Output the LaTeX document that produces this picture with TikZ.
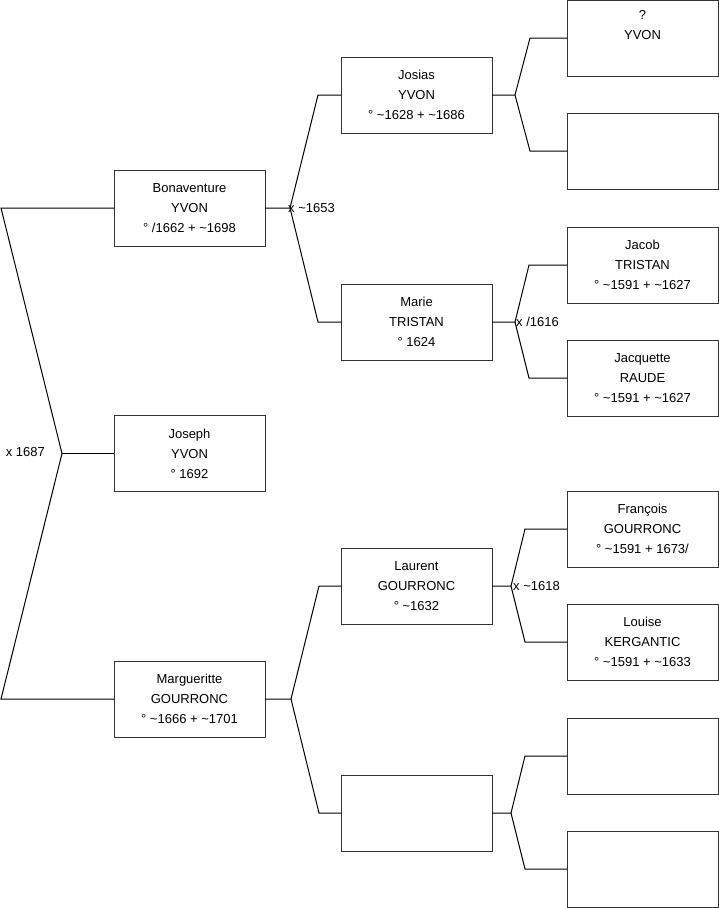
\documentclass[tikz,border=0pt]{standalone}
\usepackage{fontspec}
\setmainfont{Liberation Sans}
\newcommand{\ca}{\textasciitilde}
\begin{document}
\begin{tikzpicture}[x=1pt, y=-1pt, font=\fontsize{13}{20}\selectfont,
  person/.style={draw=black!80, line width=0.9pt, minimum width=151pt, minimum height=76pt,
    inner sep=0pt, outer sep=0pt, align=center},
  link/.style={black, line width=1pt},
  wed/.style={inner sep=0pt}]
  \useasboundingbox (0,0) rectangle (719,908);
  % generation 1
  \node[person] (joseph) at (189.5,453.5) {Joseph\\YVON\\° 1692};
  % generation 2
  \node[person] (bonaventure) at (189.5,208) {Bonaventure\\YVON\\° /1662 + \ca1698};
  \node[person] (margueritte) at (189.5,699) {Margueritte\\GOURRONC\\° \ca1666 + \ca1701};
  % generation 3
  \node[person] (josias) at (416.5,95) {Josias\\YVON\\° \ca1628 + \ca1686};
  \node[person] (marie) at (416.5,322) {Marie\\TRISTAN\\° 1624};
  \node[person] (laurent) at (416.5,586) {Laurent\\GOURRONC\\° \ca1632};
  \node[person] (unknownA) at (416.5,813) {};
  % generation 4
  \node[person] (yvon) at (642.5,38) {?\\YVON\\\strut};
  \node[person] (unknownB) at (642.5,151) {};
  \node[person] (jacob) at (642.5,265) {Jacob\\TRISTAN\\° \ca1591 + \ca1627};
  \node[person] (jacquette) at (642.5,378) {Jacquette\\RAUDE\\° \ca1591 + \ca1627};
  \node[person] (francois) at (642.5,529) {François\\GOURRONC\\° \ca1591 + 1673/};
  \node[person] (louise) at (642.5,642) {Louise\\KERGANTIC\\° \ca1591 + \ca1633};
  \node[person] (unknownC) at (642.5,756) {};
  \node[person] (unknownD) at (642.5,869) {};
  % parents of Joseph
  \coordinate (f1) at (62,453.5);
  \coordinate (b1) at ([xshift=-113pt]bonaventure.west);
  \coordinate (m1) at ([xshift=-113pt]margueritte.west);
  \draw[link] (bonaventure.west) -- (b1) -- (f1) -- (m1) -- (margueritte.west);
  \draw[link] (f1) -- (joseph.west);
  \node[wed, anchor=east] (w1) at (45,452) {x 1687};
  % parents of Bonaventure
  \draw[link] (bonaventure.east) -- ++(25,0) coordinate (f2) -- ([xshift=-23pt]josias.west) -- (josias.west);
  \draw[link] (f2) -- ([xshift=-23pt]marie.west) -- (marie.west);
  \node[wed, anchor=west] (w2) at ([xshift=-2pt]f2) {x \ca1653};
  % parents of Margueritte
  \draw[link] (margueritte.east) -- ++(26,0) coordinate (f3) -- ([xshift=-22pt]laurent.west) -- (laurent.west);
  \draw[link] (f3) -- ([xshift=-22pt]unknownA.west) -- (unknownA.west);
  % parents of Josias
  \draw[link] (josias.east) -- ++(23,0) coordinate (f4) -- ([xshift=-37pt]yvon.west) -- (yvon.west);
  \draw[link] (f4) -- ([xshift=-37pt]unknownB.west) -- (unknownB.west);
  % parents of Marie
  \draw[link] (marie.east) -- ++(23,0) coordinate (f5) -- ([xshift=-38pt]jacob.west) -- (jacob.west);
  \draw[link] (f5) -- ([xshift=-38pt]jacquette.west) -- (jacquette.west);
  \node[wed, anchor=west] (w5) at ([xshift=1pt]f5) {x /1616};
  % parents of Laurent
  \draw[link] (laurent.east) -- ++(19,0) coordinate (f6) -- ([xshift=-42pt]francois.west) -- (francois.west);
  \draw[link] (f6) -- ([xshift=-42pt]louise.west) -- (louise.west);
  \node[wed, anchor=west] (w6) at ([xshift=2pt]f6) {x \ca1618};
  % parents of the unknown
  \draw[link] (unknownA.east) -- ++(19,0) coordinate (f7) -- ([xshift=-42pt]unknownC.west) -- (unknownC.west);
  \draw[link] (f7) -- ([xshift=-42pt]unknownD.west) -- (unknownD.west);
\end{tikzpicture}
\end{document}
